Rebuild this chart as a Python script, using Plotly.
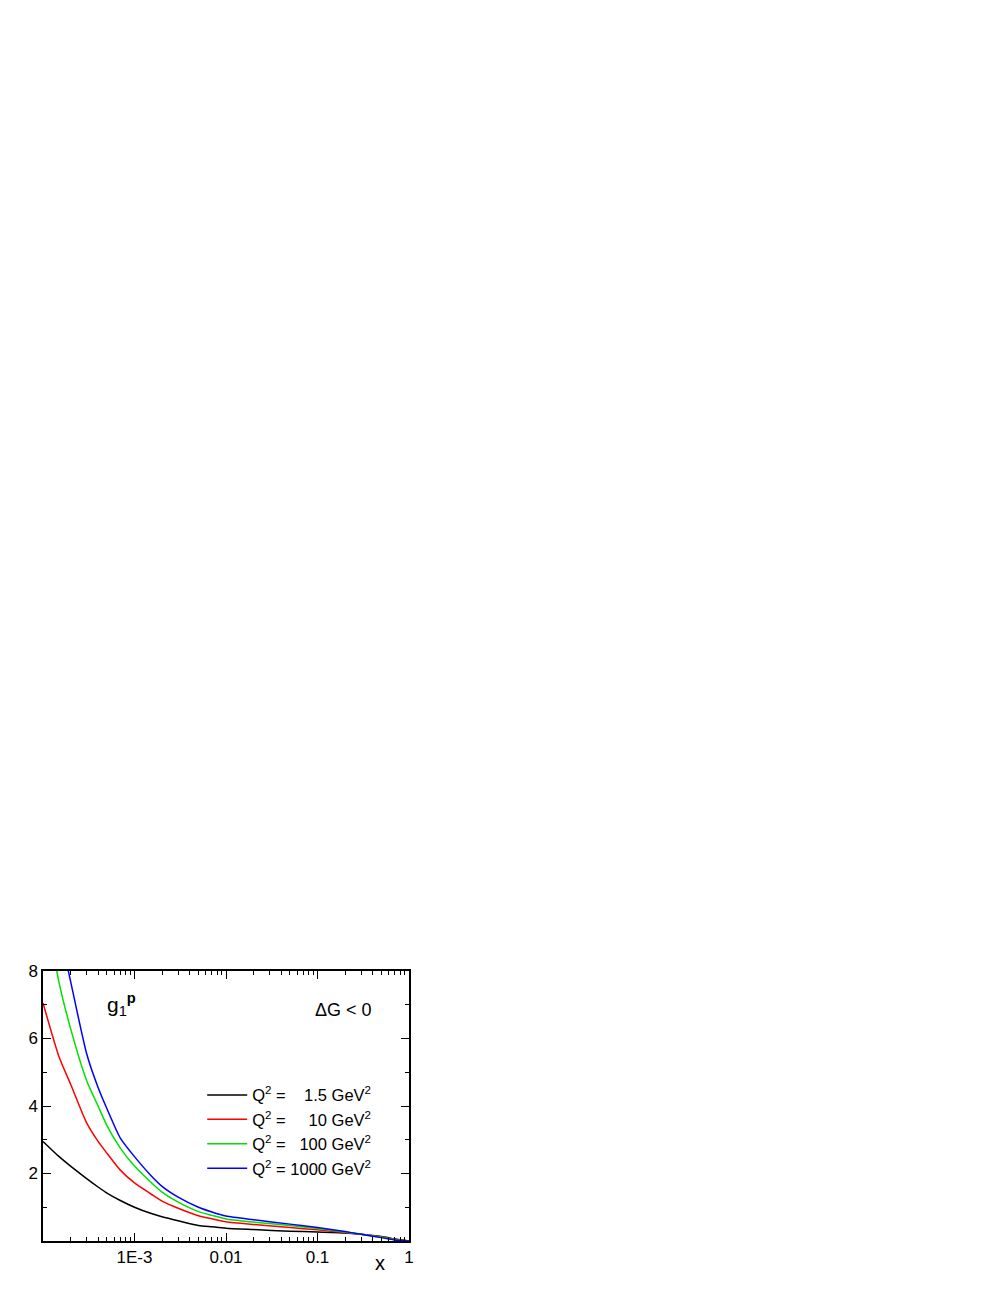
import plotly.graph_objects as go

# x grid (Bjorken x) and g1^p curves for four Q^2 values
x_vals = [1e-4, 1.5e-4, 2e-4, 3e-4, 4e-4, 5e-4, 7e-4, 1e-3, 1.5e-3, 2e-3, 3e-3,
          5e-3, 7e-3, 1e-2, 2e-2, 5e-2, 0.1, 0.2, 0.3, 0.5, 0.7, 1.0]
g1_q2_1p5 = [2.95, 2.50, 2.22, 1.85, 1.60, 1.42, 1.20, 1.00, 0.82, 0.72, 0.60,
             0.46, 0.42, 0.38, 0.34, 0.29, 0.27, 0.24, 0.20, 0.13, 0.06, 0.0]
g1_q2_10 = [7.05, 5.45, 4.65, 3.50, 2.95, 2.60, 2.10, 1.72, 1.40, 1.18, 0.97,
            0.75, 0.66, 0.57, 0.49, 0.40, 0.33, 0.25, 0.20, 0.12, 0.05, 0.0]
g1_q2_100 = [10.3, 7.65, 6.30, 4.75, 4.00, 3.42, 2.75, 2.22, 1.75, 1.45, 1.15,
             0.87, 0.76, 0.65, 0.56, 0.46, 0.37, 0.27, 0.20, 0.11, 0.04, 0.0]
g1_q2_1000 = [12.0, 9.30, 7.70, 5.55, 4.55, 3.92, 3.05, 2.50, 1.95, 1.62, 1.30,
              1.00, 0.86, 0.74, 0.63, 0.50, 0.40, 0.28, 0.20, 0.10, 0.03, 0.0]

NB = "\u00a0"
series = [
    ("Q<sup>2</sup> = " + NB * 3 + "1.5 GeV<sup>2</sup>", g1_q2_1p5, "black"),
    ("Q<sup>2</sup> = " + NB * 4 + "10 GeV<sup>2</sup>", g1_q2_10, "red"),
    ("Q<sup>2</sup> = " + NB * 2 + "100 GeV<sup>2</sup>", g1_q2_100, "#00e000"),
    ("Q<sup>2</sup> = 1000 GeV<sup>2</sup>", g1_q2_1000, "blue"),
]

x_ticks = [1e-3, 1e-2, 1e-1, 1]
x_ticktext = ["1E-3", "0.01", "0.1", "1"]
x_minor = [m * 10 ** e for e in range(-4, 0) for m in range(2, 10)]

FONT = "Liberation Sans, Arial, sans-serif"

fig = go.Figure()
for name, y, color in series:
    fig.add_trace(go.Scatter(x=x_vals, y=y, mode="lines", name=name,
                             line=dict(color=color, width=1.5,
                                       shape="spline", smoothing=0.6)))

# page body has an 8px margin, margins below account for it
fig.update_layout(
    width=1008, height=1304,
    margin=dict(l=35, r=607, t=963, b=71),
    plot_bgcolor="white", paper_bgcolor="white",
    font=dict(family=FONT, size=16, color="black"),
    showlegend=True,
    legend=dict(x=0.435, y=0.605, xanchor="left", yanchor="top",
                bgcolor="rgba(0,0,0,0)", font=dict(size=16.5), itemwidth=40,
                tracegroupgap=0),
)

fig.update_xaxes(
    type="log", range=[-4, 0], showgrid=False, zeroline=False,
    showline=True, linecolor="black", linewidth=1.5, mirror="allticks",
    ticks="inside", ticklen=8, tickwidth=1, tickcolor="black",
    tickvals=x_ticks, ticktext=x_ticktext, tickfont=dict(size=17),
    minor=dict(tickvals=x_minor, ticks="inside", ticklen=4, tickwidth=1,
               tickcolor="black", showgrid=False),
)
fig.update_yaxes(
    range=[0, 8], showgrid=False, zeroline=False,
    showline=True, linecolor="black", linewidth=1.5, mirror="allticks",
    ticks="inside", ticklen=8, tickwidth=1, tickcolor="black",
    tickvals=[2, 4, 6, 8], tickfont=dict(size=17),
    minor=dict(tickvals=[1, 3, 5, 7], ticks="inside", ticklen=4, tickwidth=1,
               tickcolor="black", showgrid=False),
)

fig.add_annotation(x=0.215, y=0.875, xref="paper", yref="paper", showarrow=False,
                   text="g<sub>1</sub><sup><b>p</b></sup>", font=dict(size=21),
                   xanchor="center", yanchor="middle")
fig.add_annotation(x=0.82, y=0.855, xref="paper", yref="paper", showarrow=False,
                   text="\u0394G < 0", font=dict(size=18),
                   xanchor="center", yanchor="middle")
fig.add_annotation(x=0.92, y=-0.08, xref="paper", yref="paper", showarrow=False,
                   text="x", font=dict(size=20),
                   xanchor="center", yanchor="middle")

fig.write_html("out.html")
